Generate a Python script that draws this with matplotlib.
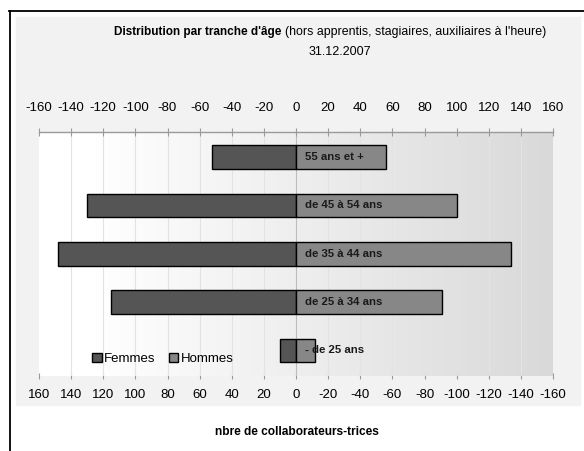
# pyramide des âges - distribution par tranche d'âge au 31.12.2007

import numpy as np
import matplotlib
matplotlib.use('Agg')
import matplotlib.pyplot as plt
from matplotlib.lines import Line2D
from matplotlib.patches import Rectangle, Patch

# données (de bas en haut)
categories = ['- de 25 ans', 'de 25 à 34 ans', 'de 35 à 44 ans',
              'de 45 à 54 ans', '55 ans et +']
femmes = [10, 115, 148, 130, 52]
hommes = [12, 91, 134, 100, 56]
ticks = [-160, -140, -120, -100, -80, -60, -40, -20, 0,
         20, 40, 60, 80, 100, 120, 140, 160]

# police
plt.rcParams['font.family'] = ['Liberation Sans', 'DejaVu Sans']

W, H = 584, 451
fig = plt.figure(figsize=(W / 100, H / 100), dpi=100)
fig.patch.set_facecolor('white')


def fx(px):
    return px / W


def fy(py):
    return 1 - py / H


# cadre et zone de graphique
fig.add_artist(Line2D([fx(9), 1], [fy(10.5), fy(10.5)], color='black', lw=1.3))
fig.add_artist(Line2D([fx(9.5), fx(9.5)], [fy(10.5), 0], color='black', lw=1.3))
fig.add_artist(Rectangle((fx(16), fy(405)), fx(580) - fx(16), fy(17) - fy(405),
                         transform=fig.transFigure, color='#f2f2f2', zorder=-5))

# zone de traçage
left, right, top, bottom = 39, 553, 132, 376
ax = fig.add_axes([fx(left), fy(bottom), fx(right) - fx(left), fy(top) - fy(bottom)])
ax.set_xlim(-160, 160)
ax.set_ylim(-0.53, 4.52)

# dégradé du fond (blanc -> gris)
xs = np.linspace(-160, 160, 400)
vals = np.clip(255 - (xs + 125) / 285 * 38, 217, 255) / 255
grad = np.dstack([vals, vals, vals]).repeat(2, axis=0)
ax.imshow(grad, extent=[-160, 160, -0.53, 4.52], aspect='auto', zorder=0)

for t in ticks[1:-1]:
    ax.axvline(t, color='#bdbdbd' if t == 0 else '#e3e3e3', lw=0.8, zorder=1)

y = np.arange(len(categories))
ax.barh(y, -np.array(femmes), height=0.49, color='#555555', edgecolor='black',
        lw=1, zorder=3, label='Femmes')
ax.barh(y, hommes, height=0.49, color='#878787', edgecolor='black',
        lw=1, zorder=3, label='Hommes')

for yi, cat in zip(y, categories):
    ax.text(5.5, yi, cat, ha='left', va='center', fontsize=8.2,
            fontweight='bold', color='#1a1a1a', zorder=4)

# axe du haut
ax.xaxis.tick_top()
ax.set_xticks(ticks)
ax.set_xticklabels([str(t) for t in ticks])
ax.tick_params(axis='x', which='both', direction='inout', length=6, width=0.8,
               color='#9a9a9a', labelsize=9.5, pad=10, labelcolor='black')
ax.set_yticks([])
for s in ['left', 'right', 'bottom']:
    ax.spines[s].set_visible(False)
ax.spines['top'].set_color('#9a9a9a')
ax.spines['top'].set_linewidth(1)

# axe du bas (valeurs inversées)
sec = ax.secondary_xaxis('bottom')
sec.set_xticks(ticks)
sec.set_xticklabels([str(-t) for t in ticks])
sec.tick_params(direction='inout', length=5, width=0.8, color='#9a9a9a',
                labelsize=9.5, pad=7)
sec.spines['bottom'].set_visible(False)

# légende
handles = [Patch(facecolor='#555555', edgecolor='black', label='Femmes'),
           Patch(facecolor='#878787', edgecolor='black', label='Hommes')]
fig.legend(handles=handles, loc='center left', bbox_to_anchor=(fx(87), fy(359)),
           ncol=2, frameon=False, fontsize=9.5, handlelength=0.7, handleheight=0.7,
           handletextpad=0.2, columnspacing=1.0, borderaxespad=0)

# titres
fig.text(fx(114), fy(32), "Distribution par tranche d'âge", fontsize=8.5,
         fontweight='bold', ha='left', va='center')
fig.text(fx(285), fy(32), "(hors apprentis, stagiaires, auxiliaires à l'heure)",
         fontsize=8.9, ha='left', va='center')
fig.text(fx(340), fy(52), '31.12.2007', fontsize=9, ha='center', va='center')
fig.text(fx(297), fy(432), 'nbre de collaborateurs-trices', fontsize=8.6,
         fontweight='bold', ha='center', va='center')

fig.savefig('out.png', dpi=100)
